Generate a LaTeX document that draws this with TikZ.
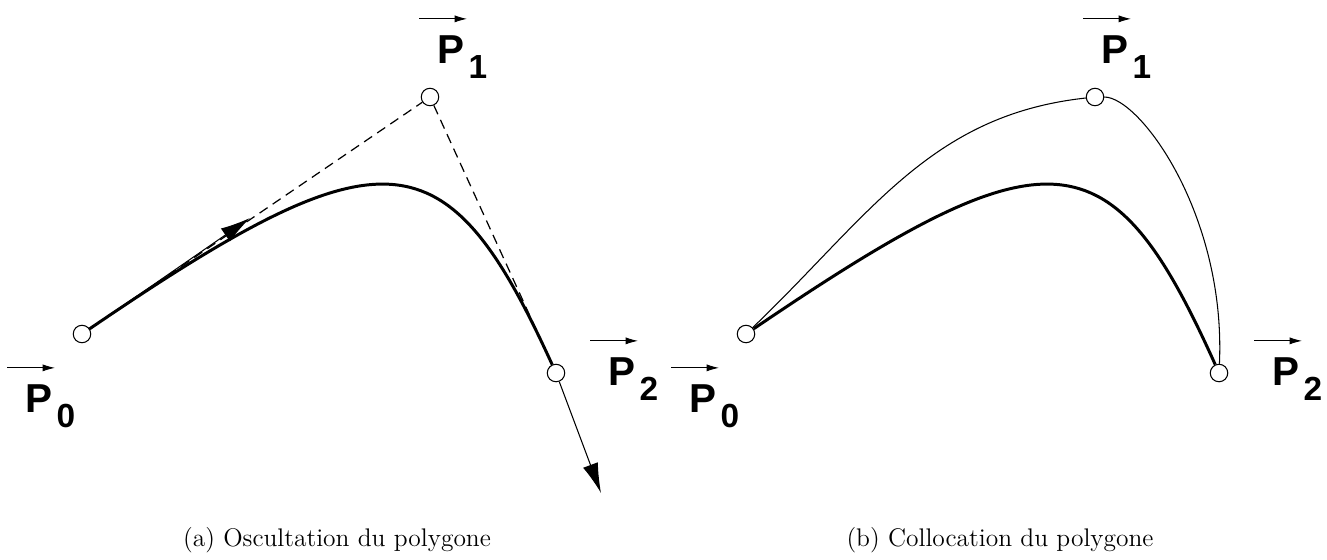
\documentclass[tikz,border=0pt]{standalone}
\usepackage{fontspec}
\newfontfamily\labfont{Liberation Sans}
\usetikzlibrary{positioning, arrows.meta, calc}
\tikzset{
  pt/.style={circle, draw, fill=white, line width=0.6pt, minimum size=0.35cm, inner sep=0pt},
  ptlabel/.style={font=\labfont\bfseries\fontsize{23}{23}\selectfont, inner sep=0pt, anchor=base west},
  vecarrow/.style={line width=0.5pt, -{Latex[length=7pt,width=4pt]}},
  tangent/.style={line width=0.6pt, -{Latex[length=17pt,width=9pt]}},
  poly/.style={line width=0.7pt, dash pattern=on 5.5pt off 3.5pt},
  curve/.style={line width=1.7pt},
  interp/.style={line width=0.6pt},
  caption/.style={font=\fontsize{14.5}{17}\selectfont, anchor=base},
}
\newcommand{\vlabel}[2]{P\hspace{2.5pt}\raisebox{-9pt}{\fontsize{19}{19}\selectfont #2}}

\begin{document}
\begin{tikzpicture}[x=0.02cm, y=-0.02cm]
  \useasboundingbox (0,0) rectangle (1327,559);

  % (a) osculation
  \node (a0) [pt] at (82,334) {};
  \node (a1) [pt] at (430,97) {};
  \node (a2) [pt] at (556,373) {};
  \coordinate (t0) at (250,218);
  \coordinate (t2) at (601,493);

  \draw[poly] (a0) -- (a1) -- (a2);
  \draw[curve] (a0) .. controls ($(a0)!0.87!(a1)$) and ($(a2)!0.87!(a1)$) .. (a2);
  \draw[tangent] (a0) -- (t0);
  \draw[tangent] (a2) -- (t2);

  \node (la0) [ptlabel] at (25,412) {\vlabel{P}{0}};
  \node (la1) [ptlabel] at (437,63) {\vlabel{P}{1}};
  \node (la2) [ptlabel] at (608,385) {\vlabel{P}{2}};
  \foreach \l in {la0, la1, la2}
    \draw[vecarrow] ($(\l.north west)+(-18,-16)$) -- ++(48,0);

  \node (capa) [caption] at (337,546) {(a) Oscultation du polygone};

  % (b) collocation
  \node (b0) [pt] at (746,334) {};
  \node (b1) [pt] at (1095,97) {};
  \node (b2) [pt] at (1219,373) {};

  \draw[curve] (b0) .. controls ($(b0)!0.87!(b1)$) and ($(b2)!0.87!(b1)$) .. (b2);
  \draw[interp] (b0) .. controls (870,215) and (930,115) .. (b1)
    .. controls (1140,97) and (1226,215) .. (b2);

  \node (lb0) [ptlabel] at (689,412) {\vlabel{P}{0}};
  \node (lb1) [ptlabel] at (1101,63) {\vlabel{P}{1}};
  \node (lb2) [ptlabel] at (1272,385) {\vlabel{P}{2}};
  \foreach \l in {lb0, lb1, lb2}
    \draw[vecarrow] ($(\l.north west)+(-18,-16)$) -- ++(48,0);

  \node (capb) [caption] at (1000,546) {(b) Collocation du polygone};
\end{tikzpicture}
\end{document}
